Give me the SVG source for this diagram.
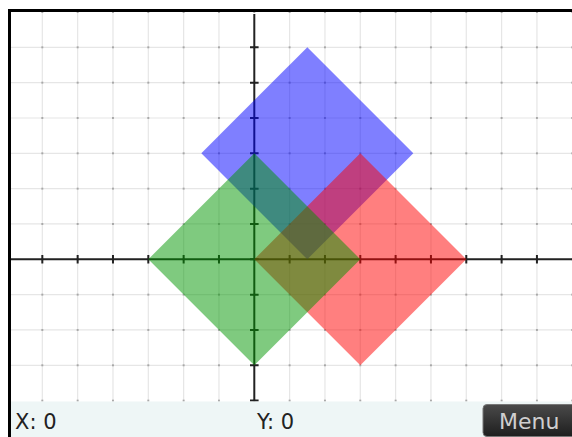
<svg xmlns="http://www.w3.org/2000/svg" width="572" height="437" viewBox="0 0 572 437">
  <style>
    .grid { stroke: #e6e6e6; stroke-width: 1.2; fill: none; }
    .axis { stroke: #222; stroke-width: 2; fill: none; }
    .tick { stroke: #222; stroke-width: 2; fill: none; }
    .sq { fill-opacity: 0.5; stroke: none; }
    .lbl { font-family: "DejaVu Sans", sans-serif; font-size: 21px; fill: #222; }
    .menu { font-family: "DejaVu Sans", sans-serif; font-size: 22px; fill: #cfcfcf; }
  </style>
  <defs>
    <pattern id="dots" patternUnits="userSpaceOnUse" x="236.635" y="241.635" width="35.33" height="35.33">
      <circle cx="17.665" cy="17.665" r="1.1" fill="#9a9a9a"/>
    </pattern>
    <linearGradient id="btn" x1="0" y1="0" x2="0" y2="1">
      <stop offset="0" stop-color="#4a4a4a"/>
      <stop offset="1" stop-color="#1e1e1e"/>
    </linearGradient>
  </defs>
  <rect x="0" y="0" width="572" height="437" fill="#ffffff"/>
  <g id="grid">
    <path class="grid" d="M42.32 12V401 M77.65 12V401 M112.98 12V401 M148.31 12V401 M183.64 12V401 M218.97 12V401 M289.63 12V401 M324.96 12V401 M360.29 12V401 M395.62 12V401 M430.95 12V401 M466.28 12V401 M501.61 12V401 M536.94 12V401
      M11 47.32H572 M11 82.65H572 M11 117.98H572 M11 153.31H572 M11 188.64H572 M11 223.97H572 M11 294.63H572 M11 329.96H572 M11 365.29H572"/>
    <rect x="11" y="12" width="561" height="390" fill="url(#dots)"/>
  </g>
  <g id="axes">
    <path class="axis" d="M11 259.3H572 M254.3 14V400.6"/>
    <path class="tick" d="M42.32 255V263.6 M77.65 255V263.6 M112.98 255V263.6 M148.31 255V263.6 M183.64 255V263.6 M218.97 255V263.6 M289.63 255V263.6 M324.96 255V263.6 M360.29 255V263.6 M395.62 255V263.6 M430.95 255V263.6 M466.28 255V263.6 M501.61 255V263.6 M536.94 255V263.6
      M250 47.32H258.6 M250 82.65H258.6 M250 117.98H258.6 M250 153.31H258.6 M250 188.64H258.6 M250 223.97H258.6 M250 259.3H258.6 M250 294.63H258.6 M250 329.96H258.6 M250 365.29H258.6 M250 400.62H258.6"/>
  </g>
  <g id="blue-square">
    <polygon class="sq" fill="#0000ff" points="307.3,47.3 413.3,153.3 307.3,259.3 201.3,153.3"/>
  </g>
  <g id="red-square">
    <polygon class="sq" fill="#ff0000" points="360.3,153.3 466.3,259.3 360.3,365.3 254.3,259.3"/>
  </g>
  <g id="green-square">
    <polygon class="sq" fill="#009600" points="254.3,153.3 360.3,259.3 254.3,365.3 148.3,259.3"/>
  </g>
  <g id="status-bar">
    <rect x="11" y="401.5" width="561" height="35.5" fill="#eef6f6"/>
    <text class="lbl" x="15" y="429">X: 0</text>
    <text class="lbl" x="257" y="429">Y: 0</text>
  </g>
  <g id="menu-button">
    <rect x="483" y="404.5" width="100" height="32" rx="4" fill="url(#btn)" stroke="#777" stroke-width="1"/>
    <text class="menu" x="499" y="429">Menu</text>
  </g>
  <g id="frame">
    <path d="M9.5 437V10.5H572" fill="none" stroke="#000" stroke-width="3"/>
  </g>
</svg>
